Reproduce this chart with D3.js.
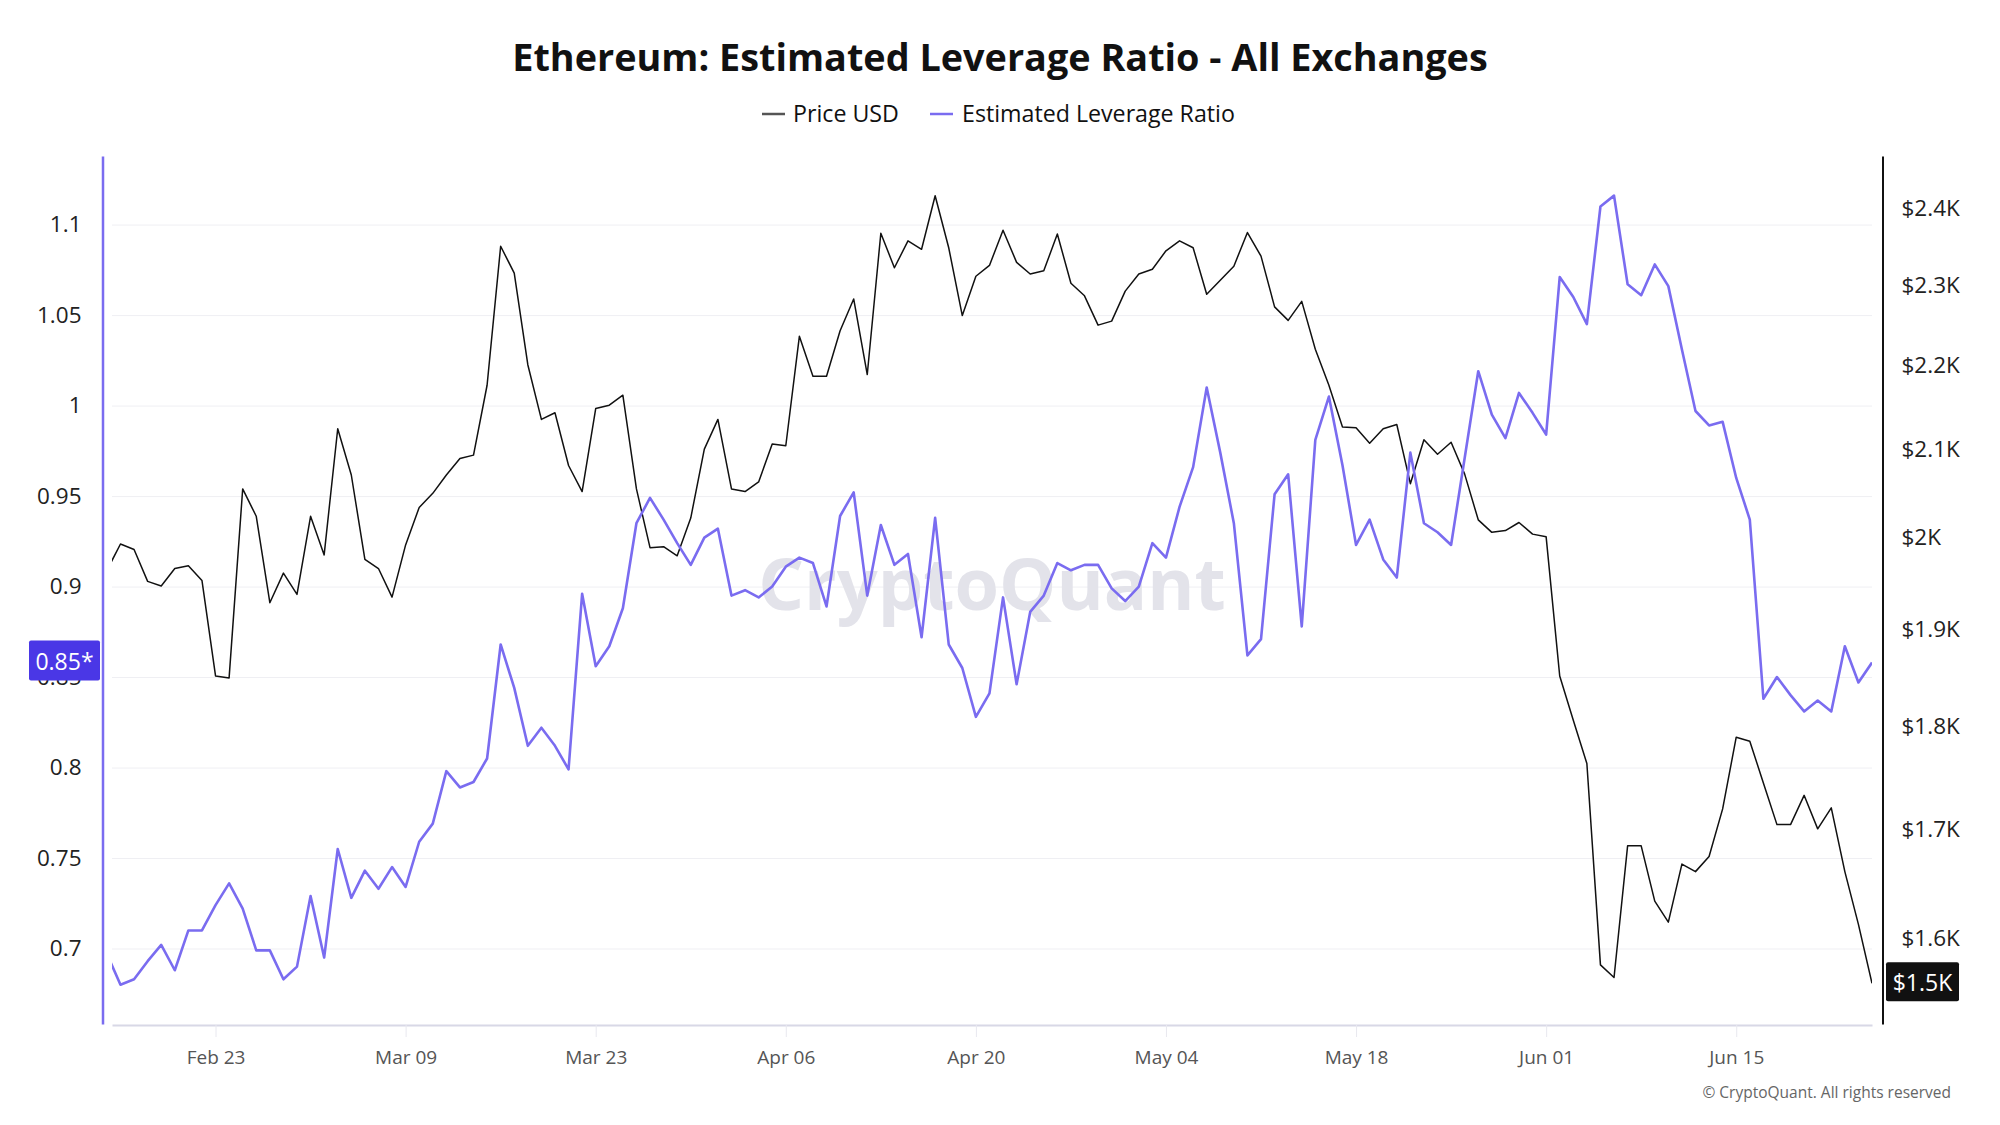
<!DOCTYPE html>
<html>
<head>
<meta charset="utf-8">
<script src="https://cdn.jsdelivr.net/npm/d3@7"></script>
<style>
  body { margin: 0; background: #ffffff; }
  svg text { font-family: "Open Sans", "Noto Sans", sans-serif; }
</style>
</head>
<body>
<svg id="chart" width="2000" height="1125"></svg>
<script>
// ---------------- DATA ----------------
const firstDay = "2025-02-15";
const lastDay = "2025-06-25";

const priceUSD = [
  1966,1995,1989,1954,1949,1968,1971,1955,1854,1852,2057,2026,1931,1963,
  1940,2026,1983,2127,2073,1978,1968,1937,1994,2036,2052,2073,2092,2096,2179,2354,
  2319,2204,2138,2146,2084,2054,2151,2155,2167,2057,1991,1992,1982,2024,2103,
  2138,2057,2054,2065,2109,2107,2239,2190,2190,2246,2286,2192,2371,2326,2361,
  2350,2421,2352,2265,2315,2329,2375,2333,2318,2322,2370,2306,2290,2253,2258,
  2296,2318,2324,2348,2361,2352,2292,2310,2328,2372,2341,2276,2259,2283,2223,
  2179,2129,2128,2110,2127,2132,2063,2114,2097,2111,2074,2022,2008,2010,2019,2006,
  2003,1854,1809,1766,1579,1568,1687,1687,1636,1617,1670,1663,1677,1722,1792,
  1788,1747,1707,1707,1735,1703,1723,1663,1615,1563
];

const leverageRatio = [
  0.697,0.680,0.683,0.693,0.702,0.688,0.710,0.710,0.724,0.736,0.722,0.699,0.699,0.683,
  0.690,0.729,0.695,0.755,0.728,0.743,0.733,0.745,0.734,0.759,0.769,0.798,0.789,0.792,0.805,0.868,
  0.844,0.812,0.822,0.812,0.799,0.896,0.856,0.867,0.888,0.935,0.949,0.937,0.924,0.912,0.927,
  0.932,0.895,0.898,0.894,0.900,0.911,0.916,0.913,0.889,0.939,0.952,0.895,0.934,0.912,0.918,
  0.872,0.938,0.868,0.855,0.828,0.841,0.894,0.846,0.886,0.895,0.913,0.909,0.912,0.912,0.899,
  0.892,0.900,0.924,0.916,0.944,0.966,1.010,0.974,0.935,0.862,0.871,0.951,0.962,0.878,0.981,
  1.005,0.967,0.923,0.937,0.915,0.905,0.974,0.935,0.930,0.923,0.971,1.019,0.995,0.982,1.007,0.996,
  0.984,1.071,1.060,1.045,1.110,1.116,1.067,1.061,1.078,1.066,1.031,0.997,0.989,0.991,0.960,
  0.937,0.838,0.850,0.840,0.831,0.837,0.831,0.867,0.847,0.858
];

const xTickDates = ["2025-02-23","2025-03-09","2025-03-23","2025-04-06","2025-04-20",
                    "2025-05-04","2025-05-18","2025-06-01","2025-06-15"];
const leftTicks = [0.7, 0.75, 0.8, 0.85, 0.9, 0.95, 1, 1.05, 1.1];
const rightTicks = [1600, 1700, 1800, 1900, 2000, 2100, 2200, 2300, 2400];
const leftDomain = [0.6583, 1.1379];
const rightDomain = [1528, 2475];
const xDomainStart = "2025-02-15T09:00:00Z";

const seriesNames = ["Price USD", "Estimated Leverage Ratio"];
const titleText = "Ethereum: Estimated Leverage Ratio - All Exchanges";

// ---------------- LAYOUT ----------------
const W = 2000, H = 1125;
const plot = { left: 112, right: 1872, top: 156, bottom: 1024 };
const leftAxisX = 102.5, rightAxisX = 1882.5;
const purple = "#7a6cf0";

const dates = d3.utcDay.range(new Date(firstDay), d3.utcDay.offset(new Date(lastDay), 1));
const rows = dates.map((d, i) => ({ date: d, price: priceUSD[i], lev: leverageRatio[i] }));

const x = d3.scaleUtc().domain([new Date(xDomainStart), new Date(lastDay)]).range([plot.left, plot.right]);
const yL = d3.scaleLinear().domain(leftDomain).range([plot.bottom, plot.top]);
const yR = d3.scaleLog().domain(rightDomain).range([plot.bottom, plot.top]);

const svg = d3.select("#chart");
svg.append("rect").attr("width", W).attr("height", H).attr("fill", "#fff");

// gridlines
const grid = svg.append("g").attr("transform", `translate(${plot.left},0)`)
  .call(d3.axisLeft(yL).tickValues(leftTicks).tickSize(-(plot.right - plot.left)).tickFormat(""));
grid.select(".domain").remove();
grid.selectAll("line").attr("stroke", "#efeff3").attr("stroke-width", 1);

// watermark
svg.append("text")
  .attr("x", (plot.left + plot.right) / 2).attr("y", 610)
  .attr("text-anchor", "middle")
  .attr("font-size", 72).attr("font-weight", 700)
  .attr("fill", "#e3e3ea")
  .text("CryptoQuant");

// x axis
const xAxis = svg.append("g").attr("transform", `translate(0,${plot.bottom + 1})`)
  .call(d3.axisBottom(x).tickValues(xTickDates.map(s => new Date(s)))
    .tickFormat(d3.utcFormat("%b %d")).tickSize(12).tickSizeOuter(0).tickPadding(14));
xAxis.select(".domain").attr("stroke", "#d8d8e6").attr("stroke-width", 2);
xAxis.selectAll(".tick line").attr("stroke", "#e8e8ef");
xAxis.selectAll(".tick text").attr("fill", "#555").attr("font-size", 19);

// left axis
const lAxis = svg.append("g").attr("transform", `translate(${leftAxisX},0)`)
  .call(d3.axisLeft(yL).tickValues(leftTicks).tickSize(0).tickPadding(21).tickFormat(d => String(d)));
lAxis.select(".domain").attr("stroke", purple).attr("stroke-width", 2.5);
lAxis.selectAll(".tick text").attr("fill", "#222").attr("font-size", 22.5);

// right axis
const rAxis = svg.append("g").attr("transform", `translate(${rightAxisX},0)`)
  .call(d3.axisRight(yR).tickValues(rightTicks).tickSize(0).tickPadding(19)
    .tickFormat(d => "$" + (d / 1000) + "K"));
rAxis.select(".domain").attr("stroke", "#111").attr("stroke-width", 2);
rAxis.selectAll(".tick text").attr("fill", "#222").attr("font-size", 22.5).attr("dy", "0.2em");

// clip
svg.append("clipPath").attr("id", "clip").append("rect")
  .attr("x", plot.left).attr("y", plot.top - 20)
  .attr("width", plot.right - plot.left).attr("height", plot.bottom - plot.top + 20);

const g = svg.append("g").attr("clip-path", "url(#clip)");
g.append("path").datum(rows)
  .attr("fill", "none").attr("stroke", "#111").attr("stroke-width", 1.5)
  .attr("stroke-linejoin", "round")
  .attr("d", d3.line().x(d => x(d.date)).y(d => yR(d.price)));
g.append("path").datum(rows)
  .attr("fill", "none").attr("stroke", purple).attr("stroke-width", 2.6)
  .attr("stroke-linejoin", "round")
  .attr("d", d3.line().x(d => x(d.date)).y(d => yL(d.lev)));

// current value labels
const lastRow = rows[rows.length - 1];
const ly = yL(lastRow.lev);
svg.append("rect").attr("x", 29).attr("y", ly - 22).attr("width", 71).attr("height", 40)
  .attr("rx", 2).attr("fill", "#4a37e6");
svg.append("text").attr("x", 64.5).attr("y", ly - 2).attr("text-anchor", "middle")
  .attr("dominant-baseline", "central").attr("fill", "#fff").attr("font-size", 23)
  .text((Math.floor(lastRow.lev * 100) / 100).toFixed(2) + "*");

const ry = yR(lastRow.price);
svg.append("rect").attr("x", 1886).attr("y", ry - 21).attr("width", 73).attr("height", 39)
  .attr("rx", 2).attr("fill", "#111");
svg.append("text").attr("x", 1922.5).attr("y", ry - 1.5).attr("text-anchor", "middle")
  .attr("dominant-baseline", "central").attr("fill", "#fff").attr("font-size", 23)
  .text("$" + (Math.floor(lastRow.price / 100) / 10) + "K");

// title
svg.append("text").attr("x", 1000).attr("y", 56).attr("text-anchor", "middle")
  .attr("dominant-baseline", "central").attr("font-size", 37.8).attr("font-weight", 700)
  .attr("fill", "#111").text(titleText);

// legend
const legend = svg.append("g");
const legendItems = [
  { name: seriesNames[0], color: "#555", x1: 762, tx: 793 },
  { name: seriesNames[1], color: purple, x1: 930, tx: 962 }
];
legendItems.forEach(it => {
  legend.append("line").attr("x1", it.x1).attr("x2", it.x1 + 23).attr("y1", 114).attr("y2", 114)
    .attr("stroke", it.color).attr("stroke-width", 2.5);
  legend.append("text").attr("x", it.tx).attr("y", 113).attr("dominant-baseline", "central")
    .attr("font-size", 23.2).attr("fill", "#111").text(it.name);
});

// copyright
svg.append("text").attr("x", 1951).attr("y", 1092).attr("text-anchor", "end")
  .attr("dominant-baseline", "central").attr("font-size", 15.5).attr("fill", "#666")
  .text("© CryptoQuant. All rights reserved");
</script>
</body>
</html>
